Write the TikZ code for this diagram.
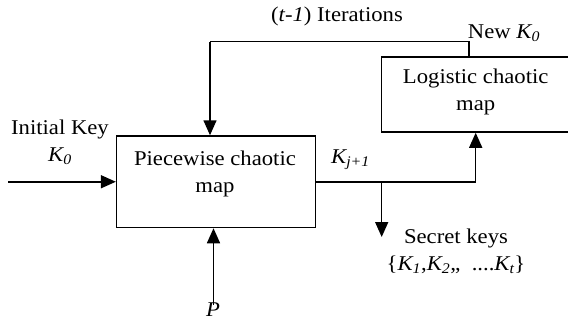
\documentclass[tikz,border=0pt]{standalone}
\usepackage{fontspec}
\setmainfont{Liberation Serif}[FakeStretch=1.08]
\usetikzlibrary{arrows.meta}
\begin{document}
\begin{tikzpicture}[x=1pt,y=-1pt,
  box/.style={draw,line width=1.5pt,inner sep=0pt},
  line/.style={line width=1.5pt},
  flow/.style={line width=1.5pt,-{Triangle[length=15pt,width=13pt]}},
  txt/.style={anchor=base,inner sep=0pt,font=\fontsize{21}{27}\selectfont}]
\useasboundingbox (0,0) rectangle (568,322);
\clip (0,0) rectangle (568,322);
\coordinate (IN) at (8,181.75);
\coordinate (PIN) at (213.5,305);
\coordinate (BR) at (381.7,181.75);
\coordinate (SK) at (381.7,237);
\coordinate (FBR) at (469,41.7);
\coordinate (FBL) at (210,41.7);
\node[box,minimum width=199pt,minimum height=91.5pt] (PW) at (216.1,181.75) {};
\node[box,minimum width=188pt,minimum height=75pt] (LG) at (475.7,94.5) {};
\node[txt,align=center] (PWtext) at (215,192) {Piecewise chaotic\\map};
\node[txt,align=center] (LGtext) at (475.7,110) {Logistic chaotic\\map};
\draw[flow] (IN) -- (PW.west);
\draw[flow] (PIN) -- (PIN |- PW.south);
\draw[flow] (PW.east) -| (LG.south);
\draw[flow] (BR) -- (SK);
\draw[line] (FBR |- LG.north) -- (FBR) -- (FBL);
\draw[flow] (FBL) -- (FBL |- PW.north);
\node[txt] (iter) at (337,21.7) {(\textit{t-1}) Iterations};
\node[txt] (newk) at (504,38) {New \textit{K\textsubscript{0}}};
\node[txt,align=center] (init) at (60,161.7) {Initial Key\\\textit{K\textsubscript{0}}};
\node[txt,anchor=base west] (kj) at (331,163.3) {\textit{K\textsubscript{j+1}}};
\node[txt,align=center] (secret) at (456,270) {Secret keys\\\{\textit{K\textsubscript{1}},\textit{K\textsubscript{2}},,~ ....\textit{K\textsubscript{t}}\}};
\node[txt] (plabel) at (213,316) {\textit{P}};
\end{tikzpicture}
\end{document}
